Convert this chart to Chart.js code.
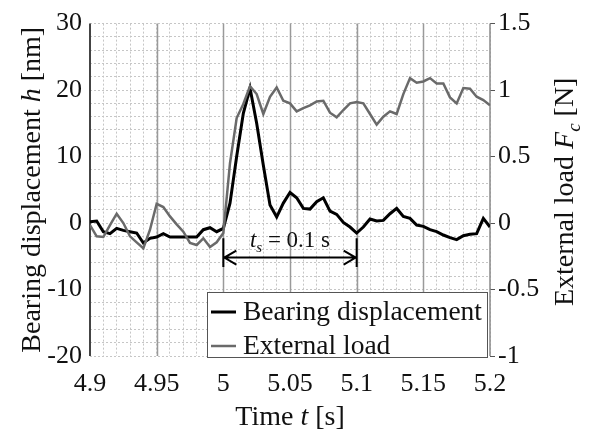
<!DOCTYPE html>
<html>
<head>
<meta charset="utf-8">
<script src="https://cdn.jsdelivr.net/npm/chart.js@4.4.1/dist/chart.umd.min.js"></script>
<style>
html, body { margin: 0; padding: 0; background: #fff; }
</style>
</head>
<body>
<canvas id="chart" width="595" height="435"></canvas>
<script>
// time axis [s], one sample every 5 ms
const timeS = [
    4.9, 4.905, 4.91, 4.915, 4.92, 4.925, 4.93, 4.935, 4.94, 4.945,
    4.95, 4.955, 4.96, 4.965, 4.97, 4.975, 4.98, 4.985, 4.99, 4.995,
    5, 5.005, 5.01, 5.015, 5.02, 5.025, 5.03, 5.035, 5.04, 5.045,
    5.05, 5.055, 5.06, 5.065, 5.07, 5.075, 5.08, 5.085, 5.09, 5.095,
    5.1, 5.105, 5.11, 5.115, 5.12, 5.125, 5.13, 5.135, 5.14, 5.145,
    5.15, 5.155, 5.16, 5.165, 5.17, 5.175, 5.18, 5.185, 5.19, 5.195, 5.2
];

// bearing displacement h [nm]
const bearingNm = [
    0.2, 0.3, -1.3, -1.6, -0.8, -1.1, -1.3, -1.5, -3.0, -2.3,
    -2.1, -1.6, -2.1, -2.1, -2.1, -2.1, -2.1, -1.0, -0.7, -1.3,
    -0.8, 3.0, 10.0, 16.5, 20.3, 15.0, 8.7, 2.7, 0.9, 3.0,
    4.6, 3.8, 2.2, 2.1, 3.2, 3.8, 1.8, 1.3, 0.1, -0.6,
    -1.5, -0.6, 0.6, 0.3, 0.4, 1.4, 2.2, 1.0, 0.7, -0.3,
    -0.5, -1.0, -1.3, -1.8, -2.2, -2.5, -1.9, -1.7, -1.6, 0.7, -0.6
];

// external load Fc [N]
const loadN = [
    -0.015, -0.10, -0.105, -0.015, 0.07, 0.0, -0.10, -0.145, -0.19, -0.05,
    0.145, 0.12, 0.05, -0.01, -0.065, -0.15, -0.165, -0.115, -0.18, -0.145,
    -0.075, 0.45, 0.79, 0.895, 1.03, 0.97, 0.82, 0.95, 1.02, 0.92,
    0.90, 0.84, 0.865, 0.885, 0.915, 0.92, 0.83, 0.795, 0.85, 0.90,
    0.91, 0.90, 0.82, 0.74, 0.80, 0.84, 0.82, 0.97, 1.09, 1.055,
    1.065, 1.09, 1.05, 1.05, 0.945, 0.90, 1.015, 1.01, 0.95, 0.925, 0.885
];

// labelled ticks
const xLabelTicks = [4.9, 4.95, 5, 5.05, 5.1, 5.15, 5.2];
const leftLabelTicks = [-20, -10, 0, 10, 20, 30];
const rightLabelTicks = [-1, -0.5, 0, 0.5, 1, 1.5];
const majorTimeLines = [4.95, 5, 5.05, 5.1, 5.15];

const seriesNames = ["Bearing displacement", "External load"];

const FONT = '"Liberation Serif", "Times New Roman", serif';
const near = (list, v) => list.some(t => Math.abs(t - v) < 1e-6);

function drawRich(ctx, parts, x, y, angle) {
    ctx.save();
    ctx.translate(x, y);
    ctx.rotate(angle);
    ctx.textAlign = "left";
    ctx.textBaseline = "alphabetic";
    let total = 0;
    parts.forEach(p => { ctx.font = p.font; total += ctx.measureText(p.text).width; });
    let cx = -total / 2;
    parts.forEach(p => {
        ctx.font = p.font;
        ctx.fillText(p.text, cx, p.dy || 0);
        cx += ctx.measureText(p.text).width;
    });
    ctx.restore();
}

// major grid, frame, annotation, legend and axis titles
const decorations = {
    id: "decorations",
    beforeDatasetsDraw(chart) {
        const { ctx, chartArea: a, scales } = chart;
        ctx.save();
        ctx.strokeStyle = "#9a9a9a";
        ctx.lineWidth = 1.5;
        majorTimeLines.forEach(t => {
            const x = Math.round(scales.x.getPixelForValue(t)) + 0.5;
            ctx.beginPath();
            ctx.moveTo(x, a.top);
            ctx.lineTo(x, a.bottom);
            ctx.stroke();
        });
        ctx.strokeStyle = "#8a8a8a";
        ctx.beginPath();
        ctx.moveTo(a.right, a.top);
        ctx.lineTo(a.right, a.bottom);
        ctx.stroke();
        ctx.strokeStyle = "#444";
        ctx.lineWidth = 2;
        ctx.beginPath();
        ctx.moveTo(a.left, a.top);
        ctx.lineTo(a.left, a.bottom);
        ctx.stroke();
        ctx.restore();
    },
    afterDatasetsDraw(chart) {
        const { ctx, chartArea: a, scales } = chart;
        const x0 = scales.x.getPixelForValue(5.0);
        const x1 = scales.x.getPixelForValue(5.1);
        const yArrow = scales.y.getPixelForValue(-5.2);
        const yTop = scales.y.getPixelForValue(-2.3);
        const yBot = scales.y.getPixelForValue(-6.6);
        ctx.save();
        ctx.strokeStyle = "#000";
        ctx.lineWidth = 2;
        ctx.beginPath();
        ctx.moveTo(x0, yTop); ctx.lineTo(x0, yBot);
        ctx.moveTo(x1, yTop); ctx.lineTo(x1, yBot);
        ctx.moveTo(x0, yArrow); ctx.lineTo(x1, yArrow);
        ctx.moveTo(x0 + 13, yArrow - 7); ctx.lineTo(x0 + 1, yArrow); ctx.lineTo(x0 + 13, yArrow + 7);
        ctx.moveTo(x1 - 13, yArrow - 7); ctx.lineTo(x1 - 1, yArrow); ctx.lineTo(x1 - 13, yArrow + 7);
        ctx.stroke();
        ctx.fillStyle = "#111";
        drawRich(ctx, [
            { text: "t", font: "italic 23px " + FONT },
            { text: "s", font: "italic 15px " + FONT, dy: 5 },
            { text: " = 0.1 s", font: "23px " + FONT }
        ], (x0 + x1) / 2, scales.y.getPixelForValue(-3.6), 0);

        // legend box
        const lx = 207, ly = 292, lw = a.right - 3 - lx, lh = a.bottom + 2 - ly;
        ctx.fillStyle = "#fff";
        ctx.fillRect(lx, ly, lw, lh);
        ctx.strokeStyle = "#555";
        ctx.lineWidth = 1;
        ctx.strokeRect(lx + 0.5, ly + 0.5, lw, lh - 1);
        const rows = [
            { y: ly + 20, color: "#000", width: 3 },
            { y: ly + 54, color: "#6a6a6a", width: 2.5 }
        ];
        ctx.font = "27.5px " + FONT;
        ctx.textBaseline = "middle";
        ctx.textAlign = "left";
        rows.forEach((r, i) => {
            ctx.strokeStyle = r.color;
            ctx.lineWidth = r.width;
            ctx.beginPath();
            ctx.moveTo(lx + 4, r.y);
            ctx.lineTo(lx + 29, r.y);
            ctx.stroke();
            ctx.fillStyle = "#111";
            ctx.fillText(seriesNames[i], lx + 36, r.y + 1);
        });
        ctx.restore();
    },
    afterDraw(chart) {
        const { ctx, chartArea: a } = chart;
        ctx.save();
        ctx.fillStyle = "#111";
        const midY = (a.top + a.bottom) / 2;
        drawRich(ctx, [
            { text: "Bearing displacement ", font: "28px " + FONT },
            { text: "h", font: "italic 28px " + FONT },
            { text: " [nm]", font: "28px " + FONT }
        ], 40, midY, -Math.PI / 2);
        drawRich(ctx, [
            { text: "External load ", font: "28px " + FONT },
            { text: "F", font: "italic 28px " + FONT },
            { text: "c", font: "italic 19px " + FONT, dy: 7 },
            { text: " [N]", font: "28px " + FONT }
        ], 573, midY + 2, -Math.PI / 2);
        drawRich(ctx, [
            { text: "Time ", font: "28px " + FONT },
            { text: "t", font: "italic 28px " + FONT },
            { text: " [s]", font: "28px " + FONT }
        ], (a.left + a.right) / 2, 425, 0);
        ctx.restore();
    }
};

const tickFont = { family: FONT, size: 26 };
const minorGrid = { color: "#c6c6c6", lineWidth: 1, drawTicks: false };

new Chart(document.getElementById("chart"), {
    type: "line",
    data: {
        datasets: [
            {
                label: seriesNames[0],
                data: timeS.map((t, i) => ({ x: t, y: bearingNm[i] })),
                yAxisID: "y",
                borderColor: "#000",
                borderWidth: 3,
                pointRadius: 0,
                tension: 0,
                order: 1
            },
            {
                label: seriesNames[1],
                data: timeS.map((t, i) => ({ x: t, y: loadN[i] })),
                yAxisID: "y2",
                borderColor: "#6a6a6a",
                borderWidth: 2.5,
                pointRadius: 0,
                tension: 0,
                order: 0
            }
        ]
    },
    options: {
        responsive: false,
        animation: false,
        devicePixelRatio: 1,
        layout: { padding: { top: 21, left: 0, right: 0, bottom: 0 } },
        plugins: { legend: { display: false }, tooltip: { enabled: false } },
        scales: {
            x: {
                type: "linear",
                min: 4.9,
                max: 5.2,
                afterFit: s => { s.height = 79; },
                ticks: {
                    stepSize: 0.01,
                    autoSkip: false,
                    maxRotation: 0,
                    padding: 13,
                    color: "#111",
                    font: tickFont,
                    callback: v => near(xLabelTicks, v) ? String(+v.toFixed(2)) : ""
                },
                grid: minorGrid,
                border: { display: false, dash: [2, 2] }
            },
            y: {
                position: "left",
                min: -20,
                max: 30,
                afterFit: s => { s.width = 90; },
                ticks: {
                    stepSize: 2,
                    autoSkip: false,
                    padding: 8,
                    color: "#111",
                    font: tickFont,
                    callback: v => near(leftLabelTicks, v) ? String(Math.round(v)) : ""
                },
                grid: minorGrid,
                border: { display: false, dash: [2, 2] }
            },
            y2: {
                position: "right",
                min: -1,
                max: 1.5,
                afterFit: s => { s.width = 105; },
                ticks: {
                    stepSize: 0.5,
                    autoSkip: false,
                    padding: 3,
                    color: "#111",
                    font: tickFont,
                    callback: v => near(rightLabelTicks, v) ? String(+v.toFixed(1)) : ""
                },
                grid: { drawOnChartArea: false, drawTicks: true, tickLength: 5, tickColor: "#555" },
                border: { display: false }
            }
        }
    },
    plugins: [decorations]
});
</script>
</body>
</html>
